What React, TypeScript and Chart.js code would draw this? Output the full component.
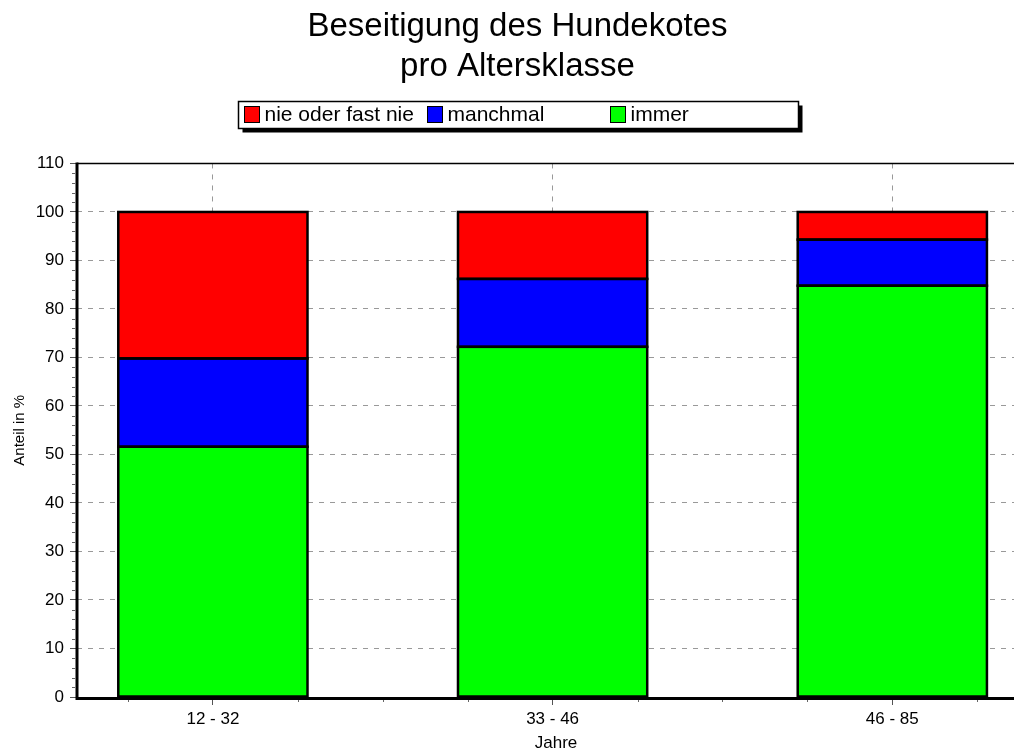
import React, { useEffect, useRef } from "react";
import { Chart, registerables } from "chart.js";

Chart.register(...registerables);

// ---- data ----
const categories = ["12 - 32", "33 - 46", "46 - 85"];
const immer = [51.6, 72.2, 84.8];
const manchmal = [18.2, 14.0, 9.5];
const nieOderFastNie = [30.2, 13.8, 5.7];
const seriesNames = ["immer", "manchmal", "nie oder fast nie"];
const seriesColors = ["#00FF00", "#0000FF", "#FF0000"];
const titleLines = ["Beseitigung des Hundekotes", "pro Altersklasse"];
const yAxisTitle = "Anteil in %";
const xAxisTitle = "Jahre";
const yMin = 0;
const yMax = 110;
const yStep = 10;

const FONT = "'Liberation Sans', Arial, Helvetica, sans-serif";

const boxLegend = {
  id: "boxLegend",
  afterDraw(chart: any) {
    const ctx = chart.ctx;
    const ds = chart.data.datasets.slice().reverse();
    const w = 560;
    const h = 27;
    const x0 = Math.round(chart.width / 2 - w / 2) + 0.5;
    const y0 = 101.5;
    ctx.save();
    ctx.fillStyle = "#000";
    ctx.fillRect(x0 + 4, y0 + 4, w, h);
    ctx.fillStyle = "#fff";
    ctx.fillRect(x0, y0, w, h);
    ctx.strokeStyle = "#000";
    ctx.lineWidth = 1.5;
    ctx.strokeRect(x0, y0, w, h);
    const colW = (w - 10) / ds.length;
    ctx.font = `21px ${FONT}`;
    ctx.textBaseline = "middle";
    ctx.textAlign = "left";
    ds.forEach((d: any, i: number) => {
      const sx = Math.round(x0 + 5 + i * colW) + 0.5;
      const sy = y0 + 5;
      ctx.fillStyle = d.backgroundColor;
      ctx.fillRect(sx, sy, 15, 16);
      ctx.lineWidth = 1;
      ctx.strokeStyle = "#000";
      ctx.strokeRect(sx, sy, 15, 16);
      ctx.fillStyle = "#000";
      ctx.fillText(d.label, sx + 20, y0 + h / 2 + 0.5);
    });
    ctx.restore();
  },
};

const axesFrame = {
  id: "axesFrame",
  afterDatasetsDraw(chart: any) {
    const ctx = chart.ctx;
    const { left, right, top, bottom } = chart.chartArea;
    const ys = chart.scales.y;
    const xs = chart.scales.x;
    ctx.save();
    // bar outlines (from the bar elements laid out by Chart.js)
    ctx.strokeStyle = "#000";
    ctx.lineWidth = 2.5;
    chart.data.datasets.forEach((_: any, di: number) => {
      const meta = chart.getDatasetMeta(di);
      meta.data.forEach((bar: any) => {
        const p = bar.getProps(["x", "y", "base", "width"], true);
        const x1 = p.x - p.width / 2;
        const yTop = Math.min(p.y, p.base);
        const hgt = Math.abs(p.base - p.y);
        ctx.strokeRect(x1, yTop, p.width, hgt);
      });
    });
    // minor ticks y
    ctx.strokeStyle = "#666";
    ctx.lineWidth = 1;
    for (let v = yMin; v <= yMax; v += 2) {
      if (v % yStep === 0) continue;
      const py = Math.round(ys.getPixelForValue(v)) + 0.5;
      ctx.beginPath();
      ctx.moveTo(left - 5, py);
      ctx.lineTo(left - 2, py);
      ctx.stroke();
    }
    // minor ticks x
    for (let v = 0.75; v <= xs.max; v += 0.25) {
      if (Math.abs(v - Math.round(v)) < 1e-6) continue;
      const px = Math.round(xs.getPixelForValue(v)) + 0.5;
      ctx.beginPath();
      ctx.moveTo(px, bottom + 1);
      ctx.lineTo(px, bottom + 5);
      ctx.stroke();
    }
    // top border
    ctx.strokeStyle = "#000";
    ctx.lineWidth = 1.5;
    ctx.beginPath();
    ctx.moveTo(left, top);
    ctx.lineTo(right, top);
    ctx.stroke();
    // axes
    ctx.lineWidth = 3;
    ctx.beginPath();
    ctx.moveTo(left, top - 1);
    ctx.lineTo(left, bottom + 1.5);
    ctx.lineTo(right, bottom + 1.5);
    ctx.stroke();
    ctx.restore();
  },
};

export default function App() {
  const ref = useRef<HTMLCanvasElement | null>(null);

  useEffect(() => {
    if (!ref.current) return;
    const mk = (vals: number[], i: number) => ({
      label: seriesNames[i],
      data: vals.map((v, k) => ({ x: k + 1, y: v })),
      backgroundColor: seriesColors[i],
      borderColor: "#000",
      borderWidth: 0,
      borderSkipped: false,
      barPercentage: 1,
      categoryPercentage: 0.557,
      stack: "s",
    });
    const chart = new Chart(ref.current, {
      type: "bar",
      data: {
        datasets: [mk(immer, 0), mk(manchmal, 1), mk(nieOderFastNie, 2)],
      },
      options: {
        animation: false,
        responsive: false,
        devicePixelRatio: 1,
        layout: { padding: 0 },
        plugins: {
          legend: { display: false },
          tooltip: { enabled: false },
          title: {
            display: true,
            text: titleLines,
            color: "#000",
            font: { family: FONT, size: 33, weight: "normal", lineHeight: 1.21 },
            padding: { top: 7, bottom: 76.6 },
          },
        },
        scales: {
          x: {
            type: "linear",
            stacked: true,
            min: 0.6,
            max: 3.42,
            offset: false,
            afterFit(scale: any) {
              scale.height = 52;
            },
            afterBuildTicks(scale: any) {
              scale.ticks = categories.map((_, i) => ({ value: i + 1 }));
            },
            ticks: {
              color: "#000",
              font: { family: FONT, size: 17 },
              padding: 4,
              maxRotation: 0,
              autoSkip: false,
              callback: (v: any) => categories[Math.round(Number(v)) - 1] ?? "",
            },
            grid: {
              offset: false,
              color: "#999",
              lineWidth: 1,
              tickLength: 8,
              tickColor: "#555",
              drawTicks: true,
            },
            border: { display: false, dash: [5, 6] },
            title: {
              display: true,
              text: xAxisTitle,
              color: "#000",
              font: { family: FONT, size: 17, lineHeight: 0.7 },
              padding: { top: 0, bottom: 0 },
            },
          },
          y: {
            type: "linear",
            stacked: true,
            min: yMin,
            max: yMax,
            afterFit(scale: any) {
              scale.width = 77;
            },
            ticks: {
              stepSize: yStep,
              color: "#000",
              font: { family: FONT, size: 17 },
              padding: 6,
            },
            grid: {
              color: (c: any) =>
                c.tick && c.tick.value > yMin && c.tick.value < yMax ? "#999" : "rgba(0,0,0,0)",
              lineWidth: 1,
              tickLength: 7,
              tickColor: "#555",
              drawTicks: true,
            },
            border: { display: false, dash: [5, 6] },
            title: {
              display: true,
              text: yAxisTitle,
              color: "#000",
              font: { family: FONT, size: 15 },
              padding: { top: 11, bottom: 0 },
            },
          },
        },
      },
      plugins: [axesFrame, boxLegend],
    } as any);
    return () => chart.destroy();
  }, []);

  return (
    <div
      style={{
        position: "fixed",
        left: 0,
        top: 0,
        width: 1014,
        height: 749,
        overflow: "hidden",
        background: "#fff",
      }}
    >
      <canvas ref={ref} width={1035} height={749} style={{ display: "block" }} />
    </div>
  );
}
